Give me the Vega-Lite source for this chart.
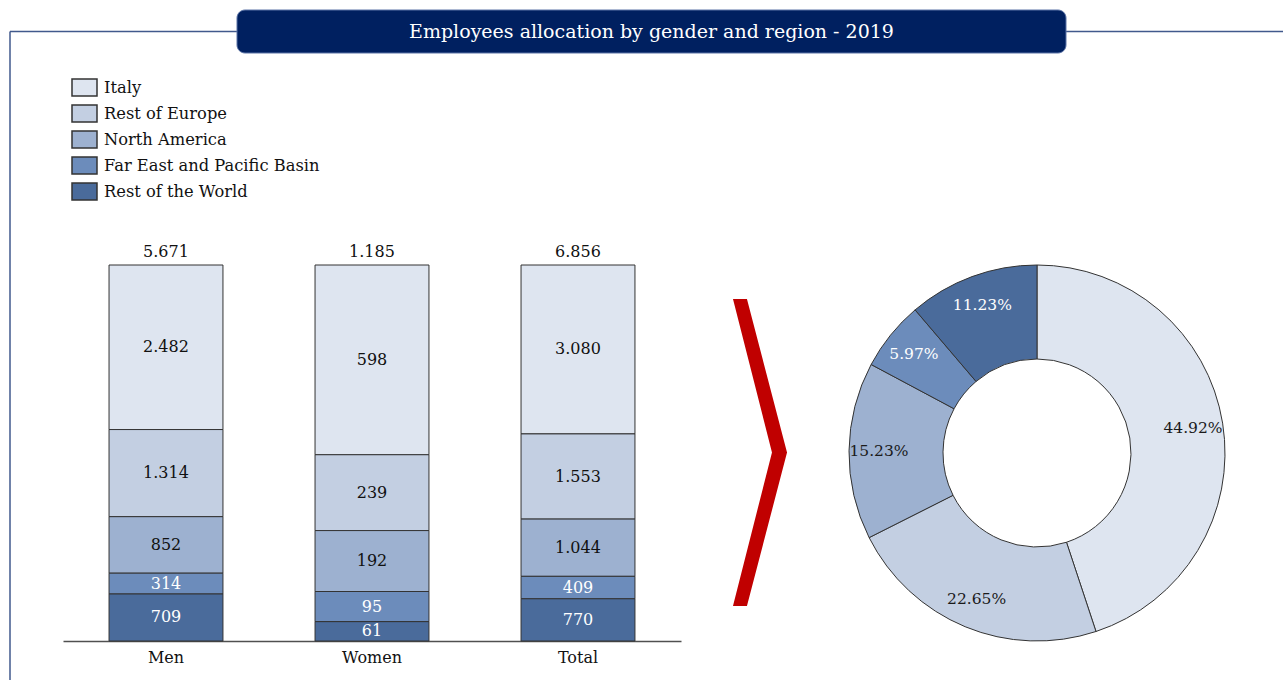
{
  "$schema": "https://vega.github.io/schema/vega-lite/v6.json",
  "width": 1284,
  "height": 681,
  "autosize": {"type": "fit", "contains": "padding"},
  "padding": 0,
  "background": "white",
  "config": {
    "view": {"stroke": null},
    "font": "DejaVu Serif",
    "locale": {"number": {"decimal": ".", "thousands": ".", "grouping": [3], "currency": ["", ""]}}
  },
  "datasets": {
    "alloc": [
      {"gender": "Men", "region": "Italy", "value": 2482, "k": 5},
      {"gender": "Men", "region": "Rest of Europe", "value": 1314, "k": 4},
      {"gender": "Men", "region": "North America", "value": 852, "k": 3},
      {"gender": "Men", "region": "Far East and Pacific Basin", "value": 314, "k": 2},
      {"gender": "Men", "region": "Rest of the World", "value": 709, "k": 1},
      {"gender": "Women", "region": "Italy", "value": 598, "k": 5},
      {"gender": "Women", "region": "Rest of Europe", "value": 239, "k": 4},
      {"gender": "Women", "region": "North America", "value": 192, "k": 3},
      {"gender": "Women", "region": "Far East and Pacific Basin", "value": 95, "k": 2},
      {"gender": "Women", "region": "Rest of the World", "value": 61, "k": 1},
      {"gender": "Total", "region": "Italy", "value": 3080, "k": 5},
      {"gender": "Total", "region": "Rest of Europe", "value": 1553, "k": 4},
      {"gender": "Total", "region": "North America", "value": 1044, "k": 3},
      {"gender": "Total", "region": "Far East and Pacific Basin", "value": 409, "k": 2},
      {"gender": "Total", "region": "Rest of the World", "value": 770, "k": 1}
    ],
    "share": [
      {"region": "Italy", "pct": 0.4492, "k": 5},
      {"region": "Rest of Europe", "pct": 0.2265, "k": 4},
      {"region": "North America", "pct": 0.1523, "k": 3},
      {"region": "Far East and Pacific Basin", "pct": 0.0597, "k": 2},
      {"region": "Rest of the World", "pct": 0.1123, "k": 1}
    ]
  },
  "layer": [
    {
      "layer": [
        {
          "data": {"values": [{}]},
          "mark": {"type": "rule", "color": "#41598c", "strokeWidth": 1.5},
          "encoding": {
            "x": {"datum": 10, "type": "quantitative", "axis": null, "scale": {"domain": [0, 1284], "nice": false, "zero": false}},
            "x2": {"datum": 1283},
            "y": {"datum": 31.5, "type": "quantitative", "axis": null, "scale": {"domain": [0, 681], "nice": false, "zero": false, "reverse": true}}
          }
        },
        {
          "data": {"values": [{}]},
          "mark": {"type": "rule", "color": "#41598c", "strokeWidth": 1.5},
          "encoding": {
            "x": {"datum": 10, "type": "quantitative", "axis": null, "scale": {"domain": [0, 1284], "nice": false, "zero": false}},
            "y": {"datum": 31.5, "type": "quantitative", "axis": null, "scale": {"domain": [0, 681], "nice": false, "zero": false, "reverse": true}},
            "y2": {"datum": 680}
          }
        },
        {
          "data": {"values": [{}]},
          "mark": {"type": "rect", "fill": "#002060", "stroke": "#5a72a6", "strokeWidth": 1, "cornerRadius": 8},
          "encoding": {
            "x": {"datum": 237, "type": "quantitative", "axis": null, "scale": {"domain": [0, 1284], "nice": false, "zero": false}},
            "x2": {"datum": 1066},
            "y": {"datum": 10, "type": "quantitative", "axis": null, "scale": {"domain": [0, 681], "nice": false, "zero": false, "reverse": true}},
            "y2": {"datum": 53}
          }
        },
        {
          "data": {"values": [{}]},
          "mark": {"type": "text", "fill": "white", "font": "DejaVu Serif", "fontSize": 19, "align": "center", "baseline": "middle"},
          "encoding": {
            "x": {"datum": 651.5, "type": "quantitative", "axis": null, "scale": {"domain": [0, 1284], "nice": false, "zero": false}},
            "y": {"datum": 31.5, "type": "quantitative", "axis": null, "scale": {"domain": [0, 681], "nice": false, "zero": false, "reverse": true}},
            "text": {"value": "Employees allocation by gender and region - 2019"}
          }
        },
        {
          "data": {"values": [{}]},
          "mark": {"type": "point", "shape": "M-0.176,-1L-0.085,-1L0.176,0L-0.085,1L-0.176,1L0.078,0Z", "size": 94249, "filled": true, "fill": "#c00000", "opacity": 1, "strokeWidth": 0},
          "encoding": {
            "x": {"datum": 760, "type": "quantitative", "axis": null, "scale": {"domain": [0, 1284], "nice": false, "zero": false}},
            "y": {"datum": 452.5, "type": "quantitative", "axis": null, "scale": {"domain": [0, 681], "nice": false, "zero": false, "reverse": true}}
          }
        },
        {
          "data": {"name": "share"},
          "mark": {"type": "arc", "outerRadius": 188, "innerRadius": 94, "stroke": "#333333", "strokeWidth": 1},
          "encoding": {
            "x": {"datum": 1037, "type": "quantitative", "axis": null, "scale": {"domain": [0, 1284], "nice": false, "zero": false}},
            "y": {"datum": 453, "type": "quantitative", "axis": null, "scale": {"domain": [0, 681], "nice": false, "zero": false, "reverse": true}},
            "theta": {"field": "pct", "type": "quantitative", "stack": true},
            "order": {"field": "k", "sort": "descending"},
            "color": {
              "field": "region", "type": "nominal",
              "scale": {"domain": ["Italy", "Rest of Europe", "North America", "Far East and Pacific Basin", "Rest of the World"], "range": ["#dee5f0", "#c3cfe2", "#9db1d0", "#6c8cbb", "#4a6b9b"]},
              "legend": {"orient": "none", "legendX": 71, "legendY": 74, "title": null, "padding": 0, "symbolType": "M-1,-0.68H1V0.68H-1Z", "symbolSize": 625, "symbolStrokeColor": "#333333", "symbolStrokeWidth": 1.5, "symbolOpacity": 1, "labelFont": "DejaVu Serif", "labelFontSize": 16.3, "labelColor": "#111111", "labelOffset": 6, "labelLimit": 400, "rowPadding": 1}
            }
          }
        },
        {
          "data": {"name": "share"},
          "mark": {"type": "text", "radius": 158, "font": "DejaVu Serif", "fontSize": 15.5, "align": "center", "baseline": "middle"},
          "encoding": {
            "x": {"datum": 1037, "type": "quantitative", "axis": null, "scale": {"domain": [0, 1284], "nice": false, "zero": false}},
            "y": {"datum": 453, "type": "quantitative", "axis": null, "scale": {"domain": [0, 681], "nice": false, "zero": false, "reverse": true}},
            "theta": {"field": "pct", "type": "quantitative", "stack": true},
            "order": {"field": "k", "sort": "descending"},
            "text": {"field": "pct", "type": "quantitative", "format": ".2%"},
            "color": {"condition": {"test": "datum.k <= 2", "value": "white"}, "value": "#1a1a1a"}
          }
        }
      ]
    },
    {
      "data": {"name": "alloc"},
      "layer": [
        {
          "mark": {"type": "bar", "stroke": "#333333", "strokeWidth": 1},
          "encoding": {
            "x": {
              "field": "gender", "type": "nominal",
              "scale": {"domain": ["Men", "Women", "Total"], "range": [63, 681], "paddingInner": 0.447, "paddingOuter": 0.2235},
              "axis": {"orient": "bottom", "offset": -40, "title": null, "ticks": false, "labelAngle": 0, "labelFont": "DejaVu Serif", "labelFontSize": 16, "labelColor": "#111111", "labelPadding": 8, "domainColor": "#505050", "domainWidth": 1.5, "grid": false}
            },
            "y": {"field": "value", "type": "quantitative", "stack": "normalize", "axis": null, "scale": {"domain": [0, 1], "range": [641, 265], "nice": false, "zero": false}},
            "color": {
              "field": "region", "type": "nominal",
              "scale": {"domain": ["Italy", "Rest of Europe", "North America", "Far East and Pacific Basin", "Rest of the World"], "range": ["#dee5f0", "#c3cfe2", "#9db1d0", "#6c8cbb", "#4a6b9b"]},
              "legend": {"orient": "none", "legendX": 71, "legendY": 74, "title": null, "padding": 0, "symbolType": "M-1,-0.68H1V0.68H-1Z", "symbolSize": 625, "symbolStrokeColor": "#333333", "symbolStrokeWidth": 1.5, "symbolOpacity": 1, "labelFont": "DejaVu Serif", "labelFontSize": 16.3, "labelColor": "#111111", "labelOffset": 6, "labelLimit": 400, "rowPadding": 1}
            },
            "order": {"field": "k", "sort": "ascending"}
          }
        },
        {
          "transform": [
            {"stack": "value", "groupby": ["gender"], "sort": [{"field": "k", "order": "ascending"}], "as": ["y0", "y1"], "offset": "normalize"},
            {"fold": ["y0", "y1"], "as": ["edge", "pos"]}
          ],
          "mark": {"type": "text", "font": "DejaVu Serif", "fontSize": 16, "align": "center", "baseline": "middle"},
          "encoding": {
            "x": {"field": "gender", "type": "nominal", "scale": {"domain": ["Men", "Women", "Total"], "range": [63, 681], "paddingInner": 0.447, "paddingOuter": 0.2235}},
            "y": {"aggregate": "mean", "field": "pos", "type": "quantitative", "stack": null, "axis": null, "scale": {"domain": [0, 1], "range": [641, 265], "nice": false, "zero": false}},
            "detail": {"field": "region", "type": "nominal"},
            "text": {"aggregate": "max", "field": "value", "type": "quantitative", "format": ",d"},
            "color": {"condition": {"test": "datum.region === 'Far East and Pacific Basin' || datum.region === 'Rest of the World'", "value": "white"}, "value": "#111111"}
          }
        },
        {
          "mark": {"type": "text", "font": "DejaVu Serif", "fontSize": 16, "align": "center", "baseline": "bottom", "dy": -5, "color": "#111111"},
          "encoding": {
            "x": {"field": "gender", "type": "nominal", "scale": {"domain": ["Men", "Women", "Total"], "range": [63, 681], "paddingInner": 0.447, "paddingOuter": 0.2235}},
            "y": {"datum": 1, "type": "quantitative", "axis": null, "scale": {"domain": [0, 1], "range": [641, 265], "nice": false, "zero": false}},
            "text": {"aggregate": "sum", "field": "value", "type": "quantitative", "format": ",d"}
          }
        }
      ]
    }
  ],
  "resolve": {"scale": {"x": "independent", "y": "independent"}}
}
